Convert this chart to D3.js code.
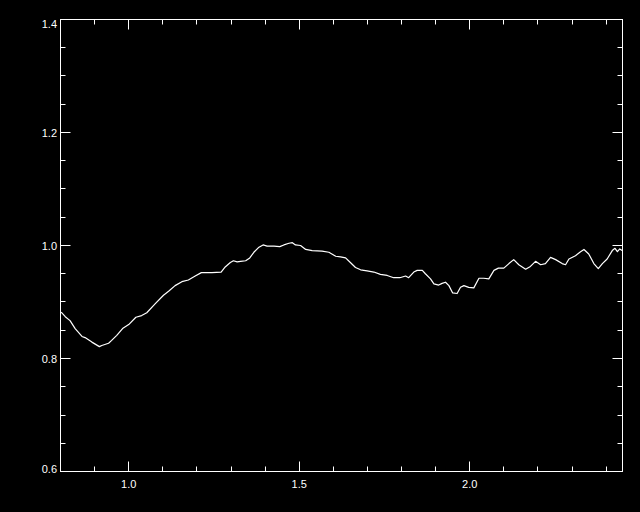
<!DOCTYPE html>
<html>
<head>
<meta charset="utf-8">
<script src="https://cdn.jsdelivr.net/npm/d3@7"></script>
<style>
  html, body { margin: 0; padding: 0; background: #000; }
  svg { display: block; }
</style>
</head>
<body>
<svg id="chart" width="640" height="512"></svg>
<script>
// Data
const xValues = [0.802, 0.814, 0.828, 0.843, 0.863, 0.872, 0.892, 0.914, 0.921, 0.941, 0.950, 0.965, 0.982, 1.000, 1.021, 1.038, 1.053, 1.078, 1.102, 1.117, 1.136, 1.156, 1.175, 1.195, 1.213, 1.244, 1.271, 1.283, 1.298, 1.307, 1.318, 1.328, 1.343, 1.355, 1.367, 1.382, 1.394, 1.406, 1.426, 1.443, 1.455, 1.470, 1.480, 1.489, 1.504, 1.519, 1.538, 1.567, 1.587, 1.607, 1.621, 1.636, 1.650, 1.665, 1.680, 1.699, 1.719, 1.738, 1.758, 1.777, 1.795, 1.812, 1.821, 1.836, 1.846, 1.861, 1.870, 1.885, 1.895, 1.909, 1.919, 1.929, 1.939, 1.950, 1.963, 1.973, 1.983, 1.997, 2.012, 2.027, 2.041, 2.056, 2.071, 2.084, 2.100, 2.115, 2.129, 2.144, 2.164, 2.178, 2.193, 2.208, 2.222, 2.237, 2.252, 2.271, 2.281, 2.291, 2.310, 2.325, 2.335, 2.349, 2.364, 2.377, 2.389, 2.403, 2.418, 2.426, 2.433, 2.440, 2.447];
const yValues = [0.882, 0.874, 0.867, 0.853, 0.839, 0.837, 0.829, 0.821, 0.823, 0.827, 0.832, 0.841, 0.853, 0.860, 0.873, 0.876, 0.881, 0.897, 0.912, 0.919, 0.929, 0.936, 0.939, 0.946, 0.952, 0.952, 0.953, 0.962, 0.970, 0.973, 0.971, 0.972, 0.973, 0.978, 0.988, 0.997, 1.001, 0.999, 0.999, 0.998, 1.001, 1.004, 1.005, 1.001, 1.000, 0.993, 0.991, 0.990, 0.988, 0.981, 0.980, 0.978, 0.970, 0.961, 0.957, 0.955, 0.953, 0.949, 0.947, 0.943, 0.943, 0.946, 0.943, 0.953, 0.956, 0.956, 0.950, 0.941, 0.932, 0.930, 0.933, 0.935, 0.929, 0.916, 0.915, 0.926, 0.929, 0.926, 0.925, 0.942, 0.942, 0.941, 0.956, 0.960, 0.960, 0.968, 0.975, 0.966, 0.958, 0.963, 0.972, 0.966, 0.968, 0.979, 0.975, 0.968, 0.966, 0.976, 0.982, 0.989, 0.993, 0.985, 0.968, 0.959, 0.968, 0.976, 0.991, 0.995, 0.989, 0.994, 0.991];

const xMajorTicks = [1.0, 1.5, 2.0];
const xTickLabels = ["1.0", "1.5", "2.0"];
const xMinorTicks = [0.9, 1.1, 1.2, 1.3, 1.4, 1.6, 1.7, 1.8, 1.9, 2.1, 2.2, 2.3, 2.4];
const yMajorTicks = [0.6, 0.8, 1.0, 1.2, 1.4];
const yTickLabels = ["0.6", "0.8", "1.0", "1.2", "1.4"];
const yMinorTicks = [0.65, 0.7, 0.75, 0.85, 0.9, 0.95, 1.05, 1.1, 1.15, 1.25, 1.3, 1.35];

const xDomain = [0.8, 2.448];
const yDomain = [0.6, 1.4];

(function () {
  const svg = d3.select("#chart");
  svg.append("rect").attr("width", 640).attr("height", 512).attr("fill", "#000");

  const pL = 60.5, pR = 622.5, pT = 19.5, pB = 471.5;
  const x = d3.scaleLinear().domain(xDomain).range([pL, pR]);
  const y = d3.scaleLinear().domain(yDomain).range([pB, pT]);

  const fg = "#fff";
  const font = "'Liberation Sans', Arial, sans-serif";

  // Frame
  svg.append("rect")
    .attr("x", pL).attr("y", pT)
    .attr("width", pR - pL).attr("height", pB - pT)
    .attr("fill", "none").attr("stroke", fg).attr("stroke-width", 1);

  const ticks = svg.append("g").attr("stroke", fg).attr("stroke-width", 1);
  const majLen = 10, minLen = 5;

  function xTick(v, len) {
    const px = Math.round(x(v) - 0.5) + 0.5;
    ticks.append("line").attr("x1", px).attr("x2", px).attr("y1", pB).attr("y2", pB - len);
    ticks.append("line").attr("x1", px).attr("x2", px).attr("y1", pT).attr("y2", pT + len);
  }
  xMajorTicks.forEach(v => xTick(v, majLen));
  xMinorTicks.forEach(v => xTick(v, minLen));

  function yTick(v, len) {
    const py = Math.round(y(v) - 0.5) + 0.5;
    ticks.append("line").attr("y1", py).attr("y2", py).attr("x1", pL).attr("x2", pL + len);
    ticks.append("line").attr("y1", py).attr("y2", py).attr("x1", pR).attr("x2", pR - len);
  }
  yMajorTicks.forEach(v => yTick(v, majLen));
  yMinorTicks.forEach(v => yTick(v, minLen));

  // X labels
  svg.append("g").selectAll("text").data(xMajorTicks).join("text")
    .attr("x", d => x(d))
    .attr("y", 487.5)
    .attr("text-anchor", "middle")
    .attr("fill", fg)
    .attr("font-family", font)
    .attr("font-size", 11)
    .text((d, i) => xTickLabels[i]);

  // Y labels
  svg.append("g").selectAll("text").data(yMajorTicks).join("text")
    .attr("x", 57)
    .attr("y", (d, i) => {
      if (i === 0) return y(d) + 1;
      if (i === yMajorTicks.length - 1) return y(d) + 8;
      return y(d) + 4.5;
    })
    .attr("text-anchor", "end")
    .attr("fill", fg)
    .attr("font-family", font)
    .attr("font-size", 11)
    .text((d, i) => yTickLabels[i]);

  // Data line
  const pts = xValues.map((v, i) => [v, yValues[i]]);
  svg.append("path")
    .datum(pts)
    .attr("fill", "none")
    .attr("stroke", fg)
    .attr("stroke-width", 1.2)
    .attr("stroke-linejoin", "round")
    .attr("d", d3.line().x(d => x(d[0])).y(d => y(d[1])));
})();
</script>
</body>
</html>
